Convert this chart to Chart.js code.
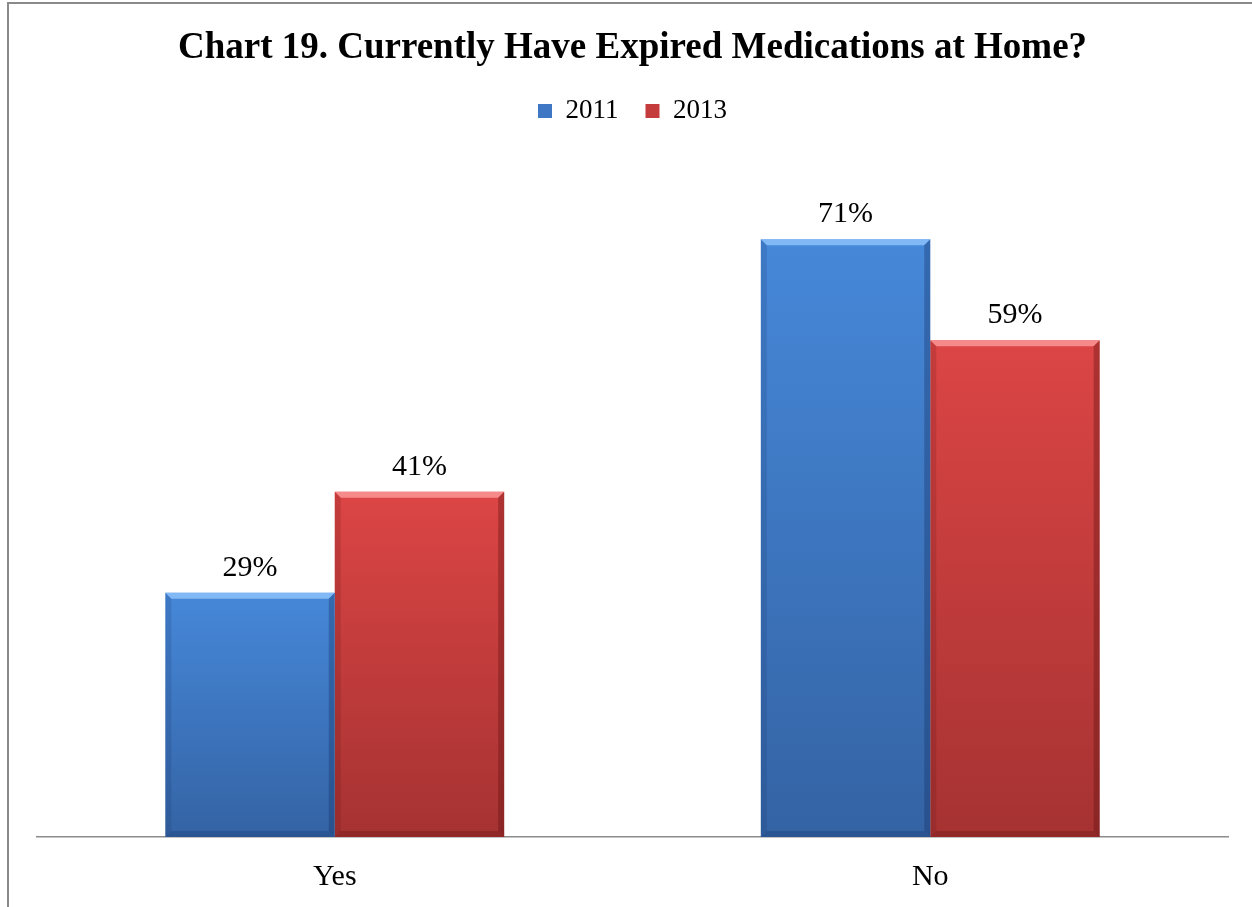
<!DOCTYPE html>
<html>
<head>
<meta charset="utf-8">
<script src="https://cdn.jsdelivr.net/npm/chart.js@4.4.1/dist/chart.umd.min.js"></script>
<style>
html,body{margin:0;padding:0;background:#fff;}
#wrap{width:1252px;height:907px;position:relative;}
</style>
</head>
<body>
<div id="wrap"><canvas id="c" width="1252" height="907"></canvas></div>
<script>
const titleText = 'Chart 19. Currently Have Expired Medications at Home?';
const categories = ['Yes', 'No'];
const seriesNames = ['2011', '2013'];
const values2011 = [29, 71];
const values2013 = [41, 59];
const yMax = 80;

const palette = {
  '2011': {top: '#4688d9', bottom: '#3463a4', solid: '#3f77c4', light: 'rgba(150,200,255,0.75)', dark: 'rgba(20,50,100,0.35)'},
  '2013': {top: '#dc4545', bottom: '#a63232', solid: '#c43c3c', light: 'rgba(255,160,160,0.75)', dark: 'rgba(90,15,15,0.35)'}
};

function barGradient(name) {
  return function (ctx) {
    const chart = ctx.chart;
    const p = palette[name];
    const ys = chart.scales && chart.scales.y;
    if (!ys || ctx.type !== 'data' || ys.bottom === undefined) return p.solid;
    const top = ys.getPixelForValue(ctx.raw);
    const bot = ys.getPixelForValue(0);
    if (!isFinite(top) || !isFinite(bot) || top === bot) return p.solid;
    const g = chart.ctx.createLinearGradient(0, top, 0, bot);
    g.addColorStop(0, p.top);
    g.addColorStop(1, p.bottom);
    return g;
  };
}

const bgPlugin = {
  id: 'bg',
  beforeDraw(chart) {
    const c = chart.ctx;
    c.save();
    c.fillStyle = '#ffffff';
    c.fillRect(0, 0, chart.width, chart.height);
    c.strokeStyle = '#8a8a8a';
    c.lineWidth = 2;
    c.beginPath();
    c.moveTo(8, chart.height + 5);
    c.lineTo(8, 3);
    c.lineTo(chart.width + 5, 3);
    c.stroke();
    c.restore();
  }
};

const legendGap = {
  id: 'legendGap',
  beforeUpdate(chart) {
    const l = chart.legend;
    if (l && !l._gapPatched) {
      const f = l.fit;
      l.fit = function () { f.call(this); this.height += 29; };
      l._gapPatched = true;
    }
  }
};

const bevelAndLabels = {
  id: 'bevelAndLabels',
  afterDatasetsDraw(chart) {
    const c = chart.ctx;
    chart.data.datasets.forEach((ds, di) => {
      const meta = chart.getDatasetMeta(di);
      const p = palette[ds.label];
      meta.data.forEach((bar, i) => {
        const {x, y, width, base} = bar.getProps(['x', 'y', 'width', 'base'], true);
        const l = x - width / 2, r = x + width / 2;
        const b = 6;
        c.save();
        c.fillStyle = p.light;
        c.beginPath();
        c.moveTo(l, y); c.lineTo(r, y); c.lineTo(r - b, y + b); c.lineTo(l + b, y + b); c.closePath();
        c.fill();
        c.fillStyle = p.dark;
        c.beginPath();
        c.moveTo(r, y); c.lineTo(r, base); c.lineTo(r - b, base - b); c.lineTo(r - b, y + b); c.closePath();
        c.fill();
        c.globalAlpha = 0.5;
        c.beginPath();
        c.moveTo(l, y); c.lineTo(l, base); c.lineTo(l + b, base - b); c.lineTo(l + b, y + b); c.closePath();
        c.fill();
        c.globalAlpha = 0.8;
        c.beginPath();
        c.moveTo(l, base); c.lineTo(r, base); c.lineTo(r - b, base - b); c.lineTo(l + b, base - b); c.closePath();
        c.fill();
        c.restore();
        c.save();
        c.fillStyle = '#000';
        c.font = '30px "Liberation Serif", "Times New Roman", serif';
        c.textAlign = 'center';
        c.textBaseline = 'alphabetic';
        c.fillText(ds.data[i] + '%', x, y - 17);
        c.restore();
      });
    });
  }
};

new Chart(document.getElementById('c'), {
  type: 'bar',
  data: {
    labels: categories,
    datasets: [
      {label: seriesNames[0], data: values2011, backgroundColor: barGradient('2011'), borderWidth: 0},
      {label: seriesNames[1], data: values2013, backgroundColor: barGradient('2013'), borderWidth: 0}
    ]
  },
  options: {
    responsive: false,
    animation: false,
    devicePixelRatio: 1,
    layout: {padding: {left: 37, right: 24, top: 0, bottom: -10}},
    datasets: {bar: {categoryPercentage: 0.569, barPercentage: 1.0}},
    scales: {
      x: {
        grid: {display: false, drawTicks: false},
        border: {display: true, color: '#8c8c8c', width: 1.5},
        ticks: {color: '#000', padding: 22, font: {family: '"Liberation Serif", "Times New Roman", serif', size: 30}}
      },
      y: {display: false, min: 0, max: yMax}
    },
    plugins: {
      title: {
        display: true,
        text: titleText,
        color: '#000',
        font: {family: '"Liberation Serif", "Times New Roman", serif', size: 37, weight: 'bold'},
        padding: {top: 26, bottom: 0}
      },
      legend: {
        display: true,
        position: 'top',
        labels: {
          color: '#000',
          boxWidth: 14,
          boxHeight: 14,
          padding: 27,
          font: {family: '"Liberation Serif", "Times New Roman", serif', size: 27},
          generateLabels(chart) {
            return chart.data.datasets.map((ds, i) => ({
              text: ds.label,
              fillStyle: palette[ds.label].solid,
              strokeStyle: palette[ds.label].solid,
              lineWidth: 0,
              fontColor: '#000',
              hidden: !chart.isDatasetVisible(i),
              datasetIndex: i
            }));
          }
        }
      },
      tooltip: {enabled: false}
    }
  },
  plugins: [bgPlugin, legendGap, bevelAndLabels]
});
</script>
</body>
</html>
